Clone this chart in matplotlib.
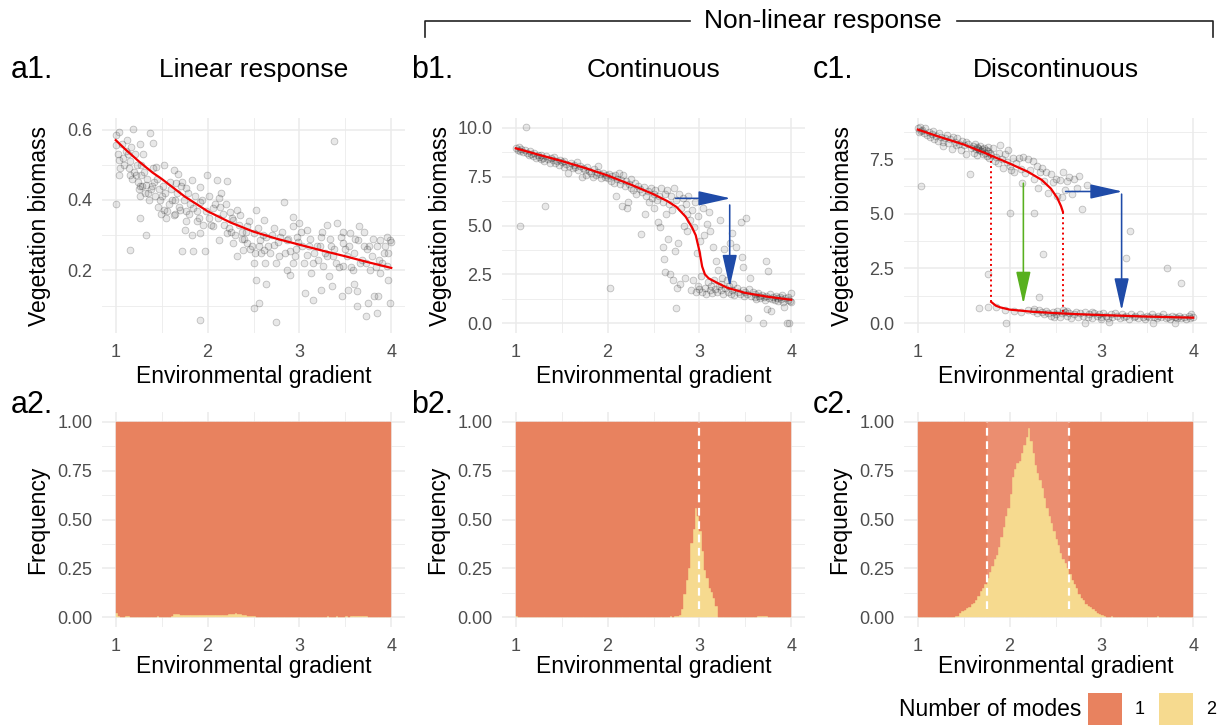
import numpy as np
import matplotlib.pyplot as plt
from matplotlib.patches import Rectangle
from matplotlib.lines import Line2D

plt.rcParams['font.family'] = ['Liberation Sans', 'DejaVu Sans']

# ---------------- data ----------------
gradient_ticks = [1, 2, 3, 4]

# a1: linear response (gradient, biomass)
a1_points = [
    (1.0, 0.584), (1.04, 0.593), (1.0, 0.556), (1.03, 0.513), (1.0, 0.39), (1.12, 0.57),
    (1.19, 0.603), (1.17, 0.55), (1.26, 0.56), (1.37, 0.589), (1.41, 0.562), (1.3, 0.532),
    (1.23, 0.499), (1.15, 0.47), (1.04, 0.47), (1.24, 0.452), (1.26, 0.44), (1.33, 0.442),
    (1.44, 0.494), (1.53, 0.499), (1.63, 0.485), (1.68, 0.475), (1.26, 0.41), (1.35, 0.42),
    (1.48, 0.40), (1.52, 0.372), (1.55, 0.348), (1.26, 0.348), (1.33, 0.30), (1.15, 0.258),
    (1.66, 0.447), (1.72, 0.452), (1.77, 0.433), (1.83, 0.457), (1.92, 0.436), (1.99, 0.47),
    (1.92, 0.395), (1.84, 0.376), (1.70, 0.372), (1.63, 0.358), (1.77, 0.339), (1.75, 0.315),
    (1.83, 0.30), (1.92, 0.306), (1.72, 0.254), (1.84, 0.254), (1.97, 0.254), (1.92, 0.06),
    (2.1, 0.457), (2.21, 0.454), (2.12, 0.405), (2.06, 0.376), (2.13, 0.381), (2.24, 0.367),
    (2.32, 0.372), (2.35, 0.358), (2.28, 0.343), (2.06, 0.325), (2.21, 0.306), (2.37, 0.31),
    (2.43, 0.325), (2.12, 0.287), (2.28, 0.277), (2.43, 0.277), (2.39, 0.258), (2.32, 0.24),
    (2.53, 0.372), (2.61, 0.343), (2.50, 0.306), (2.57, 0.287), (2.64, 0.296), (2.52, 0.249),
    (2.61, 0.258), (2.50, 0.22), (2.63, 0.22), (2.53, 0.174), (2.50, 0.093), (2.56, 0.107),
    (2.64, 0.16), (2.75, 0.053), (2.72, 0.32), (2.83, 0.395), (2.79, 0.296), (2.72, 0.273),
    (2.86, 0.287), (2.93, 0.353), (2.93, 0.325), (3.0, 0.334), (3.08, 0.315), (2.97, 0.296),
    (3.03, 0.268), (2.9, 0.254), (2.93, 0.22), (2.86, 0.202), (2.9, 0.188), (3.08, 0.244),
    (3.19, 0.268), (3.15, 0.22), (3.13, 0.192), (3.06, 0.136), (3.15, 0.117), (3.23, 0.296),
    (3.30, 0.329), (3.41, 0.334), (3.45, 0.296), (3.34, 0.268), (3.37, 0.24), (3.26, 0.211),
    (3.32, 0.183), (3.24, 0.145), (3.36, 0.155), (3.38, 0.567), (3.48, 0.277), (3.52, 0.24),
    (3.55, 0.306), (3.59, 0.249), (3.48, 0.211), (3.46, 0.126), (3.53, 0.145), (3.59, 0.16),
    (3.63, 0.14), (3.64, 0.287), (3.65, 0.325), (3.7, 0.268), (3.73, 0.22), (3.63, 0.098),
    (3.72, 0.07), (3.75, 0.107), (3.84, 0.079), (3.81, 0.126), (3.79, 0.24), (3.84, 0.268),
    (3.88, 0.287), (3.92, 0.249), (3.95, 0.296), (3.99, 0.287), (3.95, 0.211), (3.88, 0.192),
    (3.97, 0.174), (3.99, 0.107), (3.86, 0.126), (3.77, 0.202), (1.08, 0.52), (1.11, 0.54),
    (1.2, 0.48), (1.28, 0.47), (1.38, 0.43), (1.42, 0.45), (1.46, 0.38), (1.5, 0.41),
    (1.58, 0.39), (1.6, 0.43), (1.65, 0.40), (1.8, 0.36), (1.88, 0.34), (1.95, 0.33),
    (2.02, 0.35), (2.18, 0.33), (2.26, 0.31), (2.4, 0.29), (2.46, 0.26), (2.56, 0.27),
    (2.68, 0.25), (2.78, 0.24), (2.96, 0.26), (3.1, 0.27), (3.2, 0.23), (3.28, 0.25),
    (3.4, 0.22), (3.5, 0.26), (3.56, 0.21), (3.68, 0.23), (3.74, 0.26), (3.9, 0.22),
    (1.02, 0.53), (1.05, 0.49), (1.07, 0.56), (1.09, 0.50), (1.13, 0.53), (1.14, 0.49),
    (1.16, 0.51), (1.18, 0.46), (1.21, 0.53), (1.22, 0.47), (1.25, 0.43), (1.27, 0.50),
    (1.29, 0.44), (1.31, 0.48), (1.32, 0.42), (1.34, 0.46), (1.36, 0.40), (1.39, 0.44),
    (1.40, 0.49), (1.43, 0.41), (1.45, 0.46), (1.47, 0.43), (1.49, 0.36), (1.51, 0.44),
    (1.54, 0.42), (1.56, 0.37), (1.59, 0.45), (1.61, 0.40), (1.64, 0.36), (1.67, 0.42),
    (1.69, 0.38), (1.71, 0.44), (1.74, 0.40), (1.76, 0.37), (1.79, 0.42), (1.81, 0.39),
    (1.86, 0.41), (1.89, 0.37), (1.91, 0.35), (1.94, 0.40), (1.98, 0.37), (2.01, 0.41),
    (2.04, 0.33), (2.08, 0.39), (2.11, 0.35), (2.15, 0.42), (2.17, 0.36), (2.2, 0.39),
    (2.23, 0.32), (2.27, 0.35), (2.3, 0.30), (2.34, 0.33), (2.38, 0.29), (2.42, 0.31),
    (2.45, 0.34), (2.48, 0.27), (2.55, 0.32), (2.58, 0.25), (2.6, 0.30), (2.66, 0.27),
    (2.7, 0.30), (2.74, 0.22), (2.77, 0.28), (2.81, 0.31), (2.84, 0.25), (2.88, 0.29),
    (2.95, 0.24), (2.99, 0.28), (3.02, 0.31), (3.05, 0.22), (3.12, 0.29), (3.16, 0.25),
    (3.22, 0.27), (3.25, 0.31), (3.3, 0.24), (3.33, 0.29), (3.38, 0.26), (3.43, 0.21),
    (3.47, 0.31), (3.54, 0.27), (3.58, 0.20), (3.61, 0.29), (3.66, 0.22), (3.7, 0.31),
    (3.76, 0.27), (3.8, 0.29), (3.83, 0.21), (3.87, 0.23), (3.93, 0.27), (3.96, 0.25),
    (4.0, 0.28),
]
a1_curve_x = [1.0, 1.1, 1.25, 1.4, 1.5, 1.75, 2.0, 2.25, 2.5, 2.75, 3.0, 3.25, 3.5, 3.75, 4.0]
a1_curve_y = [0.57, 0.545, 0.51, 0.478, 0.46, 0.41, 0.368, 0.336, 0.31, 0.29, 0.273, 0.256, 0.24, 0.223, 0.207]

# b1: continuous non-linear response
b1_points = [
    (1.0, 8.95), (1.02, 8.85), (1.03, 9.0), (1.05, 8.8), (1.06, 8.9), (1.08, 8.75), (1.1, 8.85),
    (1.11, 10.05), (1.05, 4.95), (1.12, 8.7), (1.14, 8.6), (1.15, 8.8), (1.17, 8.65), (1.19, 8.55),
    (1.2, 8.7), (1.22, 8.45), (1.24, 8.6), (1.25, 8.5), (1.27, 8.4), (1.28, 8.6), (1.3, 8.45),
    (1.31, 8.3), (1.32, 5.98), (1.33, 8.55), (1.35, 8.4), (1.37, 8.2), (1.38, 8.45), (1.4, 8.35),
    (1.42, 8.5), (1.43, 8.2), (1.45, 8.3), (1.47, 8.1), (1.48, 8.35), (1.5, 8.25), (1.52, 8.0),
    (1.53, 8.3), (1.55, 8.15), (1.57, 7.7), (1.58, 8.05), (1.6, 8.2), (1.62, 7.95), (1.63, 8.1),
    (1.65, 8.0), (1.67, 8.25), (1.68, 7.85), (1.7, 8.05), (1.72, 7.5), (1.73, 7.95), (1.75, 7.85),
    (1.77, 7.6), (1.78, 8.0), (1.8, 7.8), (1.82, 7.7), (1.84, 7.5), (1.85, 7.9), (1.87, 7.6),
    (1.88, 7.75), (1.9, 8.05), (1.92, 7.65), (1.93, 7.45), (1.95, 7.7), (1.97, 7.5), (1.98, 7.6),
    (2.0, 7.45), (2.02, 7.65), (2.03, 1.8), (2.04, 7.3), (2.05, 7.55), (2.07, 7.2), (2.08, 7.6),
    (2.09, 6.5), (2.1, 7.4), (2.12, 7.7), (2.13, 7.1), (2.15, 7.35), (2.16, 6.0), (2.17, 7.6),
    (2.19, 7.0), (2.2, 7.3), (2.21, 5.9), (2.22, 6.2), (2.23, 7.1), (2.25, 6.9), (2.26, 7.4),
    (2.28, 6.8), (2.3, 7.2), (2.31, 6.6), (2.33, 7.0), (2.35, 6.85), (2.36, 4.55), (2.38, 6.7),
    (2.4, 6.95), (2.41, 5.6), (2.42, 6.5), (2.44, 6.75), (2.45, 6.2), (2.47, 6.9), (2.48, 6.4),
    (2.5, 6.6), (2.51, 5.9), (2.52, 6.8), (2.54, 6.3), (2.55, 5.2), (2.56, 6.5), (2.57, 4.9),
    (2.58, 6.9), (2.6, 6.2), (2.6, 3.9), (2.61, 3.3), (2.62, 6.6), (2.63, 2.6), (2.64, 5.6),
    (2.65, 6.8), (2.66, 4.3), (2.67, 6.1), (2.68, 2.5), (2.69, 6.5), (2.7, 5.8), (2.71, 2.2),
    (2.72, 6.9), (2.73, 3.7), (2.74, 0.77), (2.75, 6.3), (2.76, 1.8), (2.77, 4.1), (2.78, 6.6),
    (2.79, 2.0), (2.8, 5.9), (2.82, 6.4), (2.83, 5.0), (2.84, 2.3), (2.85, 6.1), (2.86, 4.7),
    (2.87, 5.6), (2.88, 6.5), (2.9, 5.3), (2.91, 1.7), (2.92, 5.8), (2.93, 2.2), (2.94, 4.9),
    (2.95, 6.2), (2.96, 1.6), (2.97, 3.6), (2.98, 5.5), (2.99, 1.9), (3.0, 1.75), (3.01, 4.2),
    (3.02, 2.4), (3.03, 1.6), (3.04, 5.9), (3.05, 4.5), (3.06, 1.8), (3.07, 1.5), (3.08, 5.1),
    (3.09, 2.1), (3.1, 5.7), (3.11, 1.7), (3.12, 4.7), (3.13, 1.9), (3.14, 1.55), (3.15, 3.9),
    (3.16, 2.2), (3.17, 1.75), (3.18, 3.2), (3.19, 1.6), (3.2, 2.7), (3.21, 1.9), (3.22, 5.3),
    (3.23, 2.0), (3.24, 1.7), (3.25, 2.3), (3.26, 1.5), (3.27, 3.8), (3.28, 1.8), (3.3, 2.2),
    (3.31, 1.6), (3.32, 1.9), (3.33, 4.1), (3.34, 1.5), (3.35, 4.6), (3.36, 1.7), (3.37, 2.0),
    (3.38, 1.45), (3.4, 3.9), (3.41, 1.8), (3.42, 1.6), (3.44, 1.5), (3.45, 5.2), (3.46, 3.4),
    (3.47, 1.7), (3.48, 2.9), (3.49, 1.4), (3.5, 1.6), (3.51, 5.4), (3.52, 1.5), (3.53, 0.26),
    (3.54, 1.75), (3.55, 2.3), (3.56, 1.4), (3.58, 1.6), (3.6, 1.35), (3.61, 1.5), (3.62, 1.25),
    (3.64, 1.55), (3.65, 1.4), (3.66, 1.3), (3.68, 1.45), (3.69, 0.03), (3.7, 1.35), (3.71, 1.2),
    (3.72, 3.18), (3.73, 1.4), (3.74, 0.72), (3.75, 2.66), (3.76, 1.3), (3.77, 1.5), (3.78, 0.6),
    (3.79, 1.25), (3.8, 1.35), (3.82, 1.2), (3.83, 1.4), (3.85, 1.3), (3.86, 1.15), (3.88, 1.35),
    (3.89, 1.25), (3.9, 1.45), (3.91, 1.1), (3.92, 0.85), (3.93, 1.3), (3.95, 0.02), (3.96, 1.2),
    (3.97, 1.35), (3.98, 0.02), (3.99, 1.15), (4.0, 1.55), (4.0, 1.1),
]
b1_curve_x = [1.0, 1.25, 1.5, 1.75, 2.0, 2.25, 2.5, 2.65, 2.75, 2.85, 2.92, 2.96, 3.0, 3.03,
              3.06, 3.1, 3.2, 3.3, 3.5, 3.75, 4.0]
b1_curve_y = [8.95, 8.62, 8.3, 7.95, 7.56, 7.1, 6.6, 6.25, 5.95, 5.45, 4.9, 4.5, 3.7, 2.9,
              2.5, 2.3, 2.05, 1.82, 1.55, 1.35, 1.2]

# c1: discontinuous response (two branches)
c1_points = [
    (1.0, 8.9), (1.01, 8.75), (1.02, 8.95), (1.03, 6.26), (1.04, 8.8), (1.05, 8.85), (1.07, 8.7),
    (1.08, 8.9), (1.1, 8.6), (1.12, 8.75), (1.13, 8.5), (1.15, 8.65), (1.17, 8.8), (1.18, 8.4),
    (1.2, 8.55), (1.22, 8.35), (1.23, 8.7), (1.25, 8.5), (1.27, 8.3), (1.28, 8.1), (1.3, 8.45),
    (1.32, 8.6), (1.33, 8.25), (1.35, 8.4), (1.37, 7.95), (1.38, 8.5), (1.4, 8.3), (1.42, 8.15),
    (1.43, 8.45), (1.45, 8.2), (1.47, 7.9), (1.48, 8.35), (1.5, 8.15), (1.52, 8.3), (1.53, 7.75),
    (1.55, 8.2), (1.57, 6.82), (1.58, 8.0), (1.6, 8.1), (1.61, 7.8), (1.62, 8.2), (1.63, 7.95),
    (1.64, 8.05), (1.65, 7.7), (1.66, 8.0), (1.67, 7.9), (1.68, 8.1), (1.69, 7.85), (1.7, 7.95),
    (1.71, 7.75), (1.72, 8.0), (1.73, 7.8), (1.74, 7.9), (1.75, 7.65), (1.76, 8.05), (1.77, 7.85),
    (1.78, 7.55), (1.79, 7.8), (1.8, 7.7), (1.82, 8.0), (1.84, 7.4), (1.85, 7.6), (1.87, 7.3),
    (1.88, 7.8), (1.9, 8.14), (1.92, 7.5), (1.93, 7.1), (1.95, 7.75), (1.97, 7.35), (1.98, 7.9),
    (2.0, 7.2), (2.02, 7.0), (2.04, 7.55), (2.05, 6.9), (2.07, 7.3), (2.1, 7.55), (2.12, 7.05),
    (2.14, 6.4), (2.15, 7.6), (2.17, 6.85), (2.2, 7.5), (2.22, 7.0), (2.25, 7.4), (2.27, 6.6),
    (2.3, 7.2), (2.31, 6.2), (2.33, 6.9), (2.35, 7.1), (2.37, 6.5), (2.4, 6.9), (2.42, 5.95),
    (2.45, 6.8), (2.47, 6.45), (2.5, 6.6), (2.52, 5.8), (2.55, 6.55), (2.57, 5.75), (2.58, 6.92),
    (2.6, 6.1), (2.62, 6.5), (2.65, 6.7), (2.68, 5.9), (2.7, 6.6), (2.73, 6.18), (2.76, 6.75),
    (2.79, 5.22), (2.84, 6.3),
    (1.76, 2.26), (1.67, 0.69), (1.76, 0.73), (1.96, 0.0), (2.0, 5.04), (2.27, 5.04), (2.36, 3.15),
    (2.32, 1.19), (3.31, 4.21), (3.27, 2.98), (3.71, 2.52), (3.87, 1.83), (2.82, 0.0), (3.08, 0.05),
    (3.56, 0.0), (3.8, 0.02),
    (1.85, 0.75), (1.95, 0.6), (2.05, 0.55), (2.12, 0.5), (2.2, 0.6), (2.25, 0.55), (2.27, 0.65),
    (2.3, 0.45), (2.32, 0.6), (2.35, 0.5), (2.37, 0.4), (2.4, 0.55), (2.42, 0.45), (2.45, 0.35),
    (2.47, 0.5), (2.5, 0.4), (2.52, 0.55), (2.55, 0.3), (2.57, 0.45), (2.6, 0.5), (2.62, 0.35),
    (2.65, 0.45), (2.67, 0.25), (2.7, 0.4), (2.72, 0.5), (2.75, 0.3), (2.77, 0.45), (2.8, 0.35),
    (2.82, 0.5), (2.85, 0.3), (2.87, 0.4), (2.9, 0.25), (2.92, 0.45), (2.95, 0.35), (2.97, 0.4),
    (3.0, 0.3), (3.02, 0.45), (3.05, 0.35), (3.07, 0.25), (3.1, 0.4), (3.12, 0.3), (3.15, 0.45),
    (3.17, 0.35), (3.2, 0.25), (3.22, 0.4), (3.25, 0.3), (3.27, 0.35), (3.3, 0.2), (3.32, 0.4),
    (3.35, 0.3), (3.37, 0.35), (3.4, 0.25), (3.42, 0.4), (3.45, 0.3), (3.47, 0.2), (3.5, 0.35),
    (3.52, 0.28), (3.55, 0.4), (3.57, 0.3), (3.6, 0.22), (3.62, 0.35), (3.65, 0.28), (3.67, 0.4),
    (3.7, 0.25), (3.72, 0.3), (3.75, 0.2), (3.77, 0.35), (3.8, 0.28), (3.82, 0.22), (3.85, 0.32),
    (3.87, 0.25), (3.9, 0.3), (3.92, 0.2), (3.95, 0.35), (3.97, 0.25), (4.0, 0.3), (3.98, 0.4),
    (2.58, 0.6), (2.63, 0.55), (2.48, 0.3), (2.9, 0.5), (3.0, 0.2),
]
c1_upper_x = [1.0, 1.25, 1.5, 1.75, 2.0, 2.2, 2.35, 2.45, 2.52, 2.56, 2.58]
c1_upper_y = [8.85, 8.5, 8.17, 7.75, 7.3, 6.92, 6.55, 6.15, 5.72, 5.35, 5.1]
c1_lower_x = [1.8, 1.85, 1.9, 2.0, 2.25, 2.5, 2.75, 3.0, 3.5, 4.0]
c1_lower_y = [0.97, 0.8, 0.72, 0.62, 0.52, 0.46, 0.41, 0.37, 0.3, 0.25]

# arrows ((x_start, y_start), (x_end, y_end))
b1_arrows = [((2.74, 6.39), (3.34, 6.39)), ((3.33, 6.05), (3.33, 1.85))]
c1_blue_arrows = [((2.61, 6.02), (3.23, 6.02)), ((3.22, 5.9), (3.22, 0.58))]
c1_green_arrows = [((2.15, 6.4), (2.15, 0.88))]

# bottom row: share of simulations with two modes per gradient bin (width 0.025 from 1 to 4)
bin_width = 0.025
bin_left = np.linspace(1.0, 3.975, 120)
a2_two_modes = [
    0.02, 0.005, 0.0, 0.0, 0.006, 0.004, 0.0, 0.0, 0.0, 0.0,
    0.002, 0.003, 0.0, 0.0, 0.0, 0.0, 0.0, 0.003, 0.004, 0.002,
    0.0, 0.0, 0.002, 0.003, 0.004, 0.018, 0.016, 0.014, 0.012, 0.011,
    0.01, 0.012, 0.01, 0.009, 0.011, 0.01, 0.012, 0.01, 0.009, 0.01,
    0.01, 0.011, 0.012, 0.01, 0.009, 0.011, 0.012, 0.013, 0.012, 0.015,
    0.014, 0.018, 0.02, 0.017, 0.014, 0.012, 0.01, 0.008, 0.006, 0.005,
    0.004, 0.003, 0.002, 0.003, 0.002, 0.0, 0.003, 0.002, 0.0, 0.0,
    0.002, 0.0, 0.0, 0.002, 0.003, 0.002, 0.0, 0.003, 0.002, 0.0,
    0.002, 0.0, 0.0, 0.002, 0.0, 0.003, 0.002, 0.003, 0.002, 0.0,
    0.0, 0.003, 0.004, 0.003, 0.002, 0.003, 0.004, 0.003, 0.002, 0.003,
    0.004, 0.003, 0.004, 0.005, 0.004, 0.006, 0.007, 0.006, 0.005, 0.004,
    0.003, 0.002, 0.0, 0.0, 0.0, 0.002, 0.0, 0.0, 0.0, 0.0,
]
b2_two_modes = [
    0.006, 0.003, 0.0, 0.0, 0.0, 0.0, 0.0, 0.0, 0.0, 0.0,
    0.0, 0.0, 0.0, 0.0, 0.0, 0.0, 0.0, 0.0, 0.0, 0.0,
    0.0, 0.0, 0.0, 0.0, 0.0, 0.0, 0.0, 0.0, 0.0, 0.002,
    0.003, 0.002, 0.002, 0.003, 0.002, 0.002, 0.003, 0.002, 0.002, 0.002,
    0.002, 0.003, 0.002, 0.002, 0.002, 0.003, 0.002, 0.002, 0.003, 0.002,
    0.002, 0.003, 0.002, 0.0, 0.0, 0.0, 0.0, 0.0, 0.0, 0.0,
    0.0, 0.0, 0.0, 0.0, 0.0, 0.003, 0.0, 0.004, 0.0, 0.005,
    0.005, 0.01, 0.04, 0.12, 0.19, 0.25, 0.38, 0.45, 0.56, 0.52,
    0.44, 0.34, 0.24, 0.20, 0.15, 0.13, 0.10, 0.06, 0.0, 0.0,
    0.0, 0.0, 0.0, 0.0, 0.0, 0.0, 0.0, 0.0, 0.0, 0.0,
    0.0, 0.0, 0.0, 0.002, 0.003, 0.004, 0.006, 0.005, 0.006, 0.004,
    0.003, 0.002, 0.0, 0.0, 0.0, 0.0, 0.0, 0.0, 0.0, 0.0,
]
c2_two_modes = [
    0.0, 0.0, 0.0, 0.0, 0.0, 0.0, 0.0, 0.0, 0.0, 0.0,
    0.0, 0.0, 0.0, 0.0, 0.003, 0.003, 0.005, 0.008, 0.02, 0.03,
    0.035, 0.045, 0.05, 0.07, 0.075, 0.09, 0.11, 0.135, 0.15, 0.17,
    0.2, 0.23, 0.26, 0.3, 0.32, 0.36, 0.41, 0.46, 0.52, 0.56,
    0.63, 0.72, 0.76, 0.79, 0.80, 0.84, 0.88, 0.92, 0.97, 0.90,
    0.84, 0.78, 0.74, 0.70, 0.66, 0.61, 0.56, 0.52, 0.48, 0.44,
    0.40, 0.37, 0.33, 0.30, 0.28, 0.25, 0.22, 0.19, 0.17, 0.15,
    0.12, 0.10, 0.09, 0.07, 0.06, 0.05, 0.04, 0.03, 0.02, 0.015,
    0.01, 0.005, 0.0, 0.003, 0.004, 0.0, 0.0, 0.0, 0.0, 0.0,
    0.0, 0.0, 0.0, 0.0, 0.0, 0.0, 0.0, 0.0, 0.0, 0.0,
    0.0, 0.0, 0.0, 0.0, 0.004, 0.0, 0.0, 0.0, 0.0, 0.0,
    0.0, 0.0, 0.0, 0.0, 0.0, 0.0, 0.0, 0.0, 0.0, 0.0,
]
b2_thresholds = [3.0]
c2_thresholds = [1.75, 2.65]

# ---------------- styling ----------------
ORANGE = '#E8825F'
ORANGE_LIGHT = '#EB8E70'
YELLOW = '#F6DA8F'
GRID = '#EBEBEB'
TICK = '#4D4D4D'
BLUE = '#1F4BA8'
GREEN = '#58B01E'
RED = '#F00000'

W, H = 1221, 725
fig = plt.figure(figsize=(W / 100, H / 100), dpi=100)


def px_axes(x0, y0, x1, y1):
    return fig.add_axes([x0 / W, 1 - y1 / H, (x1 - x0) / W, (y1 - y0) / H])


def ftext(x, y, s, **kw):
    fig.text(x / W, 1 - y / H, s, **kw)


def style(ax, ylim, yticks, yfmt, yminor):
    ax.set_xlim(0.85, 4.15)
    ax.set_ylim(*ylim)
    ax.set_xticks(gradient_ticks)
    ax.set_xticklabels([str(t) for t in gradient_ticks])
    ax.set_xticks([1.5, 2.5, 3.5], minor=True)
    ax.set_yticks(yticks)
    ax.set_yticklabels([yfmt.format(t) for t in yticks])
    ax.set_yticks(yminor, minor=True)
    ax.grid(True, which='major', color=GRID, lw=1.1)
    ax.grid(True, which='minor', color=GRID, lw=0.6)
    ax.set_axisbelow(True)
    for s in ax.spines.values():
        s.set_visible(False)
    ax.tick_params(which='both', length=0, labelsize=13, labelcolor=TICK)
    ax.tick_params(axis='x', pad=8)
    ax.tick_params(axis='y', pad=7)


def scatter(ax, pts):
    p = np.array(pts)
    ax.scatter(p[:, 0], p[:, 1], s=24, facecolor=(0, 0, 0, 0.09),
               edgecolor=(0, 0, 0, 0.22), linewidths=0.6, zorder=2)


def arrow(ax, start, end, color):
    ax.annotate('', xy=end, xytext=start, zorder=5,
                arrowprops=dict(arrowstyle='-|>,head_length=2.0,head_width=0.45',
                                mutation_scale=10, color=color, lw=1.15,
                                shrinkA=0, shrinkB=0))


def hist(ax, two_modes, thresholds):
    two = np.array(two_modes)
    light = np.zeros(len(bin_left), dtype=bool)
    if len(thresholds) == 2:
        mid = bin_left + bin_width / 2
        light = (mid > thresholds[0]) & (mid < thresholds[1])
    ones_col = [ORANGE_LIGHT if l else ORANGE for l in light]
    ax.bar(bin_left, two, width=bin_width, align='edge', color=YELLOW,
           edgecolor=YELLOW, linewidth=0.3, zorder=2)
    ax.bar(bin_left, 1 - two, bottom=two, width=bin_width, align='edge',
           color=ones_col, edgecolor=ones_col, linewidth=0.3, zorder=2)
    for t in thresholds:
        ax.plot([t, t], [0.04, 1.0], color='white', lw=1.6,
                linestyle=(0, (3.5, 2.5)), zorder=3)


cols = [(102, 405), (502, 805), (904, 1207)]
top = (118, 333)
bot = (412, 627)

# top row
ax_a1 = px_axes(cols[0][0], top[0], cols[0][1], top[1])
style(ax_a1, (0.022, 0.633), [0.2, 0.4, 0.6], '{:.1f}', [0.1, 0.3, 0.5])
scatter(ax_a1, a1_points)
ax_a1.plot(a1_curve_x, a1_curve_y, color=RED, lw=1.6, zorder=4)

ax_b1 = px_axes(cols[1][0], top[0], cols[1][1], top[1])
style(ax_b1, (-0.5, 10.5), [0, 2.5, 5, 7.5, 10], '{:.1f}', [1.25, 3.75, 6.25, 8.75])
scatter(ax_b1, b1_points)
ax_b1.plot(b1_curve_x, b1_curve_y, color=RED, lw=1.6, zorder=4)
for s, e in b1_arrows:
    arrow(ax_b1, s, e, BLUE)

ax_c1 = px_axes(cols[2][0], top[0], cols[2][1], top[1])
style(ax_c1, (-0.45, 9.38), [0, 2.5, 5, 7.5], '{:.1f}', [1.25, 3.75, 6.25, 8.75])
scatter(ax_c1, c1_points)
ax_c1.plot(c1_upper_x, c1_upper_y, color=RED, lw=1.6, zorder=4)
ax_c1.plot(c1_lower_x, c1_lower_y, color=RED, lw=1.6, zorder=4)
# dotted jumps at the two tipping points
x_low = c1_lower_x[0]
x_up = c1_upper_x[-1]
ax_c1.plot([x_low, x_low], [c1_lower_y[0], np.interp(x_low, c1_upper_x, c1_upper_y)],
           color=RED, lw=1.4, linestyle=':', zorder=4)
ax_c1.plot([x_up, x_up], [c1_upper_y[-1], np.interp(x_up, c1_lower_x, c1_lower_y)],
           color=RED, lw=1.4, linestyle=':', zorder=4)
for s, e in c1_blue_arrows:
    arrow(ax_c1, s, e, BLUE)
for s, e in c1_green_arrows:
    arrow(ax_c1, s, e, GREEN)

# bottom row
freq_ticks = [0, 0.25, 0.5, 0.75, 1.0]
freq_minor = [0.125, 0.375, 0.625, 0.875]
for (x0, x1), data, thr in zip(cols, [a2_two_modes, b2_two_modes, c2_two_modes],
                               [[], b2_thresholds, c2_thresholds]):
    ax = px_axes(x0, bot[0], x1, bot[1])
    style(ax, (-0.05, 1.05), freq_ticks, '{:.2f}', freq_minor)
    hist(ax, data, thr)

# ---------------- text ----------------
title_kw = dict(fontsize=19, ha='center', va='center')
tag_kw = dict(fontsize=22, ha='left', va='center')
lab_kw = dict(fontsize=16.5, ha='center', va='center')

for (x0, x1), title, tag1, tag2 in zip(cols, ['Linear response', 'Continuous', 'Discontinuous'],
                                       ['a1.', 'b1.', 'c1.'], ['a2.', 'b2.', 'c2.']):
    xc = (x0 + x1) / 2
    ftext(xc, 70, title, **title_kw)
    ftext(x0 - 91, 70, tag1, **tag_kw)
    ftext(x0 - 91, 405, tag2, **tag_kw)
    ftext(xc, 377, 'Environmental gradient', **lab_kw)
    ftext(xc, 667, 'Environmental gradient', **lab_kw)
    ftext(x0 - 62, (top[0] + top[1]) / 2, 'Vegetation biomass', rotation=90, **lab_kw)
    ftext(x0 - 64, (bot[0] + bot[1]) / 2, 'Frequency', rotation=90, **lab_kw)

# bracket over the non-linear panels
ftext(823, 21, 'Non-linear response', **title_kw)
for xs, ys in [([425, 425, 690], [37, 21, 21]), ([957, 1213, 1213], [21, 21, 37])]:
    fig.add_artist(Line2D([x / W for x in xs], [1 - y / H for y in ys],
                          color='#222222', lw=1.2, transform=fig.transFigure))

# legend
ftext(899, 710, 'Number of modes', fontsize=16.5, ha='left', va='center')
for x0, col, lab, lx in [(1088, ORANGE, '1', 1140), (1159, YELLOW, '2', 1211)]:
    fig.add_artist(Rectangle((x0 / W, 1 - 727 / H), 34 / W, 34 / H, facecolor=col,
                             edgecolor='none', transform=fig.transFigure))
    ftext(lx, 710, lab, fontsize=13, ha='center', va='center')

fig.savefig('out.png', dpi=100)
